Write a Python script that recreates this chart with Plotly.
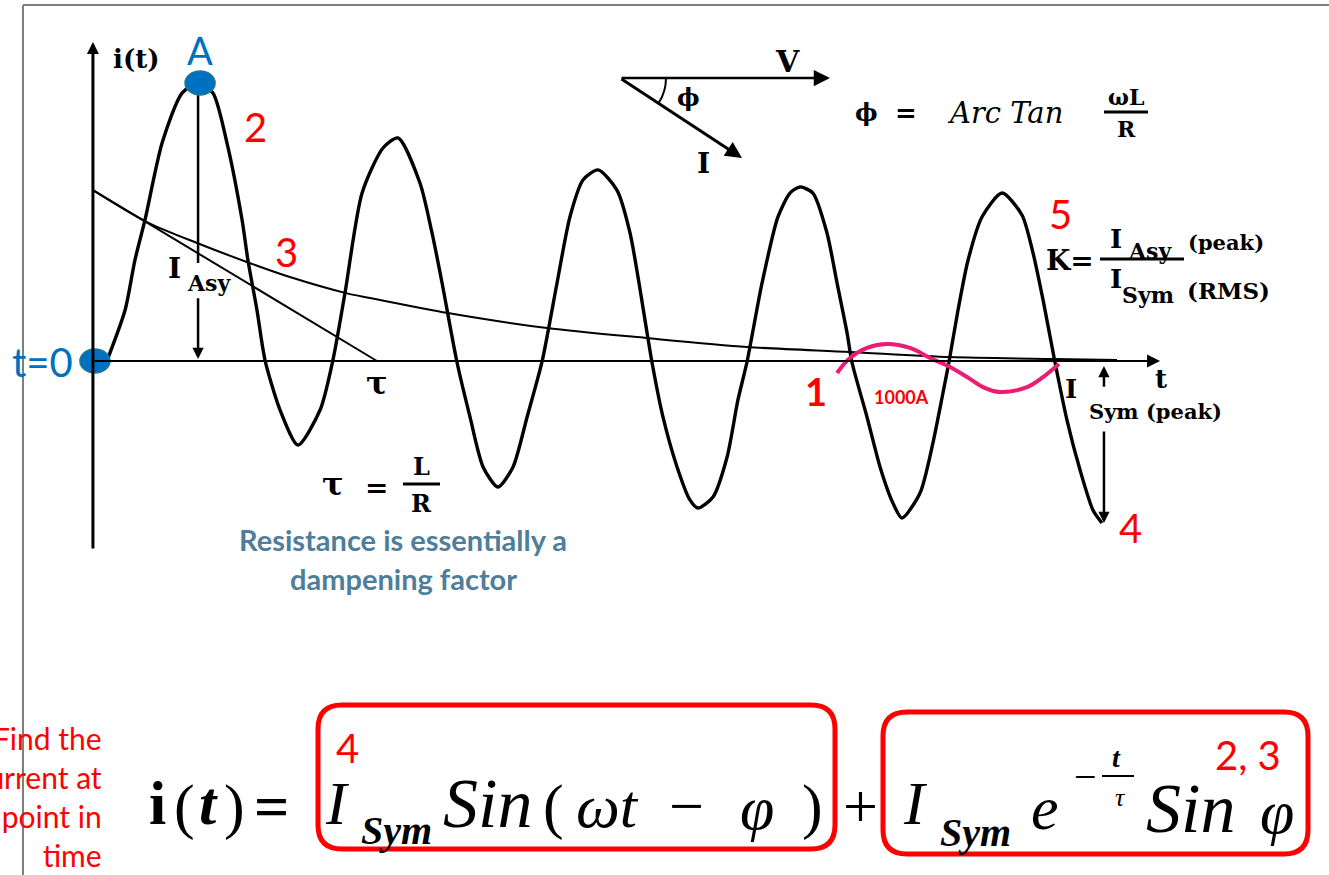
import plotly.graph_objects as go

W, H = 1329, 875

# Fault current i(t): t in cycles from fault inception, i in per-unit of the symmetrical peak
wave_t = [0.010, 0.095, 0.144, 0.194, 0.279, 0.378, 0.458, 0.532, 0.602, 0.677, 0.706, 0.751,
          0.791, 0.866, 0.955, 1.065, 1.129, 1.189, 1.274, 1.378, 1.453, 1.562, 1.622, 1.672,
          1.746, 1.811, 1.876, 1.950, 2.025, 2.095, 2.169, 2.244, 2.308, 2.373, 2.448, 2.542,
          2.607, 2.692, 2.716, 2.771, 2.841, 2.905, 2.945, 3.020, 3.090, 3.144, 3.189, 3.264,
          3.343, 3.403, 3.453, 3.517, 3.587, 3.637, 3.687, 3.711, 3.786, 3.851, 3.915, 3.960,
          4.050, 4.114, 4.164, 4.194, 4.239, 4.289, 4.358, 4.458, 4.557, 4.612, 4.662, 4.721,
          4.781, 4.846, 4.910, 4.955]
wave_i = [0.018, 0.309, 0.612, 0.855, 1.321, 1.624, 1.685, 1.624, 1.321, 0.855, 0.612, 0.309,
          0.006, -0.297, -0.509, -0.297, 0.006, 0.412, 1.018, 1.291, 1.352, 1.079, 0.776, 0.473,
          -0.006, -0.339, -0.642, -0.764, -0.642, -0.339, -0.006, 0.473, 0.873, 1.097, 1.158,
          1.036, 0.776, 0.170, -0.006, -0.339, -0.642, -0.842, -0.891, -0.824, -0.582, -0.236,
          -0.006, 0.473, 0.873, 1.018, 1.055, 1.018, 0.776, 0.473, 0.170, -0.006, -0.339, -0.642,
          -0.861, -0.952, -0.800, -0.497, -0.194, -0.006, 0.309, 0.612, 0.873, 1.018, 0.885,
          0.655, 0.370, -0.006, -0.358, -0.661, -0.903, -0.982]
PEAK_A = 6  # index of the first (asymmetrical) peak

# Decaying DC offset I_Sym·e^(−t/τ)·sin φ
dc_t = [-0.065, 0.204, 0.453, 0.701, 0.915, 1.199, 1.313, 1.701, 2.194, 2.692, 3.189, 3.701,
        4.199, 4.721, 5.030]
dc_i = [1.036, 0.842, 0.715, 0.600, 0.509, 0.410, 0.382, 0.291, 0.200, 0.139, 0.085, 0.055,
        0.024, 0.012, 0.006]

tau = 1.348  # cycles: where the initial tangent of the offset meets the t axis

# 1000 A load current sketched for comparison
load_t = [3.637, 3.701, 3.786, 3.886, 4.000, 4.100, 4.199, 4.284, 4.363, 4.448, 4.582, 4.662, 4.741]
load_i = [-0.073, 0.018, 0.079, 0.103, 0.079, 0.018, -0.036, -0.097, -0.158, -0.188, -0.158,
          -0.097, -0.018]

# extents of the drawn i(t) and t axes
axis_t0, axis_t1 = -0.065, 5.244
axis_i_bot, axis_i_top = -1.145, 1.933

RED = "#FF0000"
BLUE = "#0070C0"
STEEL = "#4F7E9A"
PINK = "#EC1C73"
SERIF = "DejaVu Serif"
TIMES = "Liberation Serif"
SANS = "Lato"

fig = go.Figure()

fig.add_trace(go.Scatter(x=dc_t, y=dc_i, mode="lines",
                         line=dict(color="black", width=2, shape="spline", smoothing=0.8)))
fig.add_trace(go.Scatter(x=[dc_t[0], tau], y=[dc_i[0], 0], mode="lines",
                         line=dict(color="black", width=2)))
fig.add_trace(go.Scatter(x=wave_t, y=wave_i, mode="lines",
                         line=dict(color="black", width=3.4, shape="spline", smoothing=0.7)))
fig.add_trace(go.Scatter(x=load_t, y=load_i, mode="lines",
                         line=dict(color=PINK, width=4, shape="spline", smoothing=1.0)))

# --- axes of the sketch ---
fig.add_annotation(x=axis_t0, y=axis_i_top, ax=axis_t0, ay=axis_i_bot, xref="x", yref="y",
                   axref="x", ayref="y", text="", showarrow=True, arrowhead=2,
                   arrowwidth=3, arrowsize=0.8, arrowcolor="black")
fig.add_annotation(x=axis_t1, y=0, ax=axis_t0, ay=0, xref="x", yref="y",
                   axref="x", ayref="y", text="", showarrow=True, arrowhead=2,
                   arrowwidth=2, arrowsize=1.3, arrowcolor="black")

# I_Asy measure from the first peak down to the axis (gap for its label)
tA, iA = wave_t[PEAK_A], wave_i[PEAK_A]
fig.add_shape(type="line", xref="x", yref="y", x0=tA, x1=tA, y0=iA, y1=0.594,
              line=dict(color="black", width=2.5))
fig.add_annotation(x=tA, y=0.012, ax=tA, ay=0.39, xref="x", yref="y", axref="x", ayref="y",
                   text="", showarrow=True, arrowhead=2, arrowwidth=2.5, arrowsize=0.9,
                   arrowcolor="black")

# I_Sym (peak) measure at the last trough
tS, iS = wave_t[-1] + 0.01, wave_i[-1]
fig.add_annotation(x=tS, y=-0.03, ax=tS, ay=-0.165, xref="x", yref="y", axref="x", ayref="y",
                   text="", showarrow=True, arrowhead=2, arrowwidth=2.5, arrowsize=0.9,
                   arrowcolor="black")
fig.add_annotation(x=tS, y=iS, ax=tS, ay=-0.418, xref="x", yref="y", axref="x", ayref="y",
                   text="", showarrow=True, arrowhead=2, arrowwidth=2.5, arrowsize=0.9,
                   arrowcolor="black")

# markers: peak A and t = 0
for (ta, ia) in [(tA + 0.01, iA), (axis_t0 + 0.01, 0.0)]:
    fig.add_shape(type="circle", xref="x", yref="y", xsizemode="pixel", ysizemode="pixel",
                  xanchor=ta, yanchor=ia, x0=-15, x1=15, y0=-12, y1=12,
                  fillcolor=BLUE, line=dict(color="#1B7A8C", width=1.5))


def X(px):
    return px / W


def Y(py):
    return 1 - py / H


def label(px, py, text, size, color="black", family=SERIF, xanchor="center"):
    fig.add_annotation(x=X(px), y=Y(py), xref="paper", yref="paper", text=text,
                       showarrow=False, xanchor=xanchor, yanchor="middle",
                       font=dict(size=size, color=color, family=family))


def pline(x0, y0, x1, y1, color="black", width=2):
    fig.add_shape(type="line", xref="paper", yref="paper", x0=X(x0), y0=Y(y0),
                  x1=X(x1), y1=Y(y1), line=dict(color=color, width=width))


def parrow(hx, hy, tx, ty, width=2.5, size=1.3):
    fig.add_annotation(x=X(hx), y=Y(hy), xref="paper", yref="paper", ax=tx - hx, ay=ty - hy,
                       axref="pixel", ayref="pixel", text="", showarrow=True, arrowhead=2,
                       arrowwidth=width, arrowsize=size, arrowcolor="black")


def rounded_box(x0, y0, x1, y1, r, color=RED, width=5):
    p = (f"M {X(x0 + r)},{Y(y0)} L {X(x1 - r)},{Y(y0)} Q {X(x1)},{Y(y0)} {X(x1)},{Y(y0 + r)} "
         f"L {X(x1)},{Y(y1 - r)} Q {X(x1)},{Y(y1)} {X(x1 - r)},{Y(y1)} "
         f"L {X(x0 + r)},{Y(y1)} Q {X(x0)},{Y(y1)} {X(x0)},{Y(y1 - r)} "
         f"L {X(x0)},{Y(y0 + r)} Q {X(x0)},{Y(y0)} {X(x0 + r)},{Y(y0)} Z")
    fig.add_shape(type="path", xref="paper", yref="paper", path=p,
                  line=dict(color=color, width=width))


# page frame
pline(23, 5, W, 5, color="#7F7F7F", width=2)
pline(23, 5, 23, H, color="#7F7F7F", width=2)

# axis labels
label(136, 59, "<b>i(t)</b>", 26)
label(1161, 379, "<b>t</b>", 26)
label(200, 50, "A", 38, BLUE, SANS)
label(42, 362, "t=0", 40, BLUE, SANS)

label(174, 268, "<b>I</b>", 28)
label(209, 283, "<b>Asy</b>", 22)
label(377, 383, "<b>τ</b>", 32)

# τ = L/R
label(333, 484, "<b>τ</b>", 32)
label(376, 487, "<b>=</b>", 28)
label(421, 466, "<b>L</b>", 24)
pline(403, 484, 440, 484, width=3)
label(421, 503, "<b>R</b>", 24)

label(403, 539, "<b>Resistance is essentially a</b>", 29, STEEL, SANS)
label(403, 578, "<b>dampening factor</b>", 29, STEEL, SANS)

# phasor diagram
parrow(830, 78, 620, 78, width=2.5, size=1.3)
parrow(742, 158, 620, 78, width=3, size=1.1)
fig.add_shape(type="path", xref="paper", yref="paper",
              path=f"M {X(666)},{Y(78)} Q {X(666)},{Y(91.6)} {X(658.6)},{Y(103)}",
              line=dict(color="black", width=2))
label(788, 62, "<b>V</b>", 30)
label(688, 97, "<b>ϕ</b>", 24)
label(703, 163, "<b>I</b>", 28)

# φ = Arc Tan ωL/R
label(866, 112, "<b>ϕ</b>", 24)
label(906, 113, "<b>=</b>", 26)
label(1005, 113, "<i>Arc Tan</i>", 29)
label(1126, 97, "<b>ωL</b>", 22)
pline(1104, 112, 1148, 112, width=3)
label(1126, 129, "<b>R</b>", 22)

# K = I_Asy(peak) / I_Sym(RMS)
label(1060, 214, "5", 40, RED, SANS)
label(1070, 260, "<b>K=</b>", 28)
pline(1100, 259, 1184, 259, width=3)
label(1116, 239, "<b>I</b>", 26)
label(1150, 251, "<b>Asy</b>", 22)
label(1226, 243, "<b>(peak)</b>", 21)
label(1116, 279, "<b>I</b>", 26)
label(1148, 295, "<b>Sym</b>", 22)
label(1228, 290, "<b>(RMS)</b>", 23)

# I_Sym (peak)
label(1071, 389, "<b>I</b>", 26)
label(1155, 411, "<b>Sym (peak)</b>", 21)
label(1130, 528, "4", 40, RED, SANS)

label(816, 391, "<b>1</b>", 38, RED, SANS)
label(901, 397, "<b>1000A</b>", 18, RED, SANS)
label(255, 127, "2", 40, RED, SANS)
label(286, 252, "3", 40, RED, SANS)

# side note
fig.add_annotation(x=X(104), y=Y(718), xref="paper", yref="paper",
                   text="Find the<br>current at<br>any point in<br>time", showarrow=False,
                   xanchor="right", yanchor="top", align="right",
                   font=dict(size=30, color=RED, family=SANS))

# i(t) = I_Sym Sin(ωt − φ) + I_Sym e^(−t/τ) Sin φ
rounded_box(318, 705, 835, 849, 24)
rounded_box(883, 712, 1308, 854, 24)
label(157, 803, "<b>i</b>", 62, family=TIMES)
label(184, 806, "(", 62, family=TIMES)
label(208, 803, "<b><i>t</i></b>", 62, family=TIMES)
label(234, 806, ")", 62, family=TIMES)
label(271, 806, "<b>=</b>", 62, family=TIMES)

label(337, 803, "<i>I</i>", 62, family=TIMES)
label(396, 830, "<b><i>Sym</i></b>", 40, family=TIMES)
label(488, 803, "<i>Sin</i>", 70, family=TIMES)
label(553, 806, "(", 62, family=TIMES)
label(607, 806, "<i>ωt</i>", 62, family=TIMES)
label(686, 806, "−", 62, family=TIMES)
label(757, 808, "<i>φ</i>", 62, family=TIMES)
label(812, 806, ")", 62, family=TIMES)
label(860, 806, "+", 62, family=TIMES)

label(915, 803, "<i>I</i>", 62, family=TIMES)
label(976, 832, "<b><i>Sym</i></b>", 40, family=TIMES)
label(1045, 808, "<i>e</i>", 62, family=TIMES)
label(1085, 776, "−", 40, family=TIMES)
label(1116, 757, "<b><i>t</i></b>", 28, family=TIMES)
pline(1102, 776, 1134, 776, width=2)
label(1120, 797, "<i>τ</i>", 26, family=TIMES)
label(1190, 808, "<i>Sin</i>", 70, family=TIMES)
label(1277, 812, "<i>φ</i>", 62, family=TIMES)

label(347, 748, "4", 40, RED, SANS)
label(1248, 755, "2, 3", 40, RED, SANS)

fig.update_layout(
    width=W, height=H, margin=dict(l=0, r=0, t=0, b=0),
    paper_bgcolor="white", plot_bgcolor="white", showlegend=False,
    xaxis=dict(range=[-106 / 201, (W - 106) / 201], visible=False, fixedrange=True),
    yaxis=dict(range=[(361 - H) / 165, 361 / 165], visible=False, fixedrange=True),
)

fig.write_html("out.html")
